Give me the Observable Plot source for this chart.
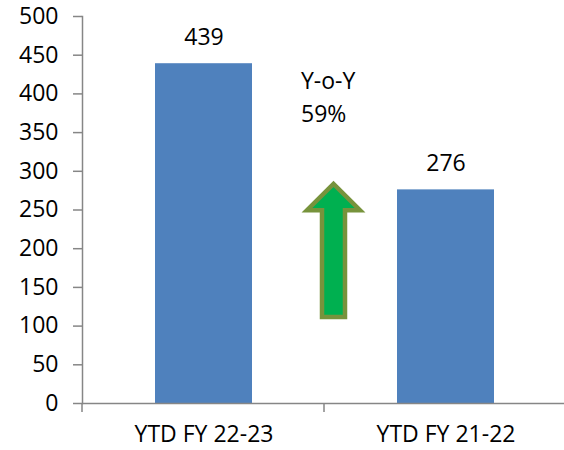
<!DOCTYPE html>
<html>
<head>
<meta charset="utf-8">
<script src="https://cdn.jsdelivr.net/npm/d3@7"></script>
<script src="https://cdn.jsdelivr.net/npm/@observablehq/plot@0.6"></script>
<style>
  body { margin: 0; background: #fff; }
  #chart svg { font-family: "Open Sans", sans-serif; }
</style>
</head>
<body>
<div id="chart"></div>
<script>
const categories = ["YTD FY 22-23", "YTD FY 21-22"];
const values = [439, 276];
const yTicks = [0, 50, 100, 150, 200, 250, 300, 350, 400, 450, 500];
// arrow annotation (data units)
const arrowBottom = 111;
const arrowHeadBase = 249;
const arrowTip = 283;
const yoyLabelY = 399;
const yoyPct = Math.round((values[0] / values[1] - 1) * 100);
const yoyText = `Y-o-Y\n${yoyPct}%`;

const data = categories.map((c, i) => ({category: c, value: values[i]}));
const axisColor = "#868686";
const fs = 23;

function bandInfo(x) {
  const r = x.range();
  const step = typeof x.step === "function" ? x.step() : (r[1] - r[0]) / categories.length;
  const bw = typeof x.bandwidth === "function" ? x.bandwidth() : step * 0.4;
  return {r0: Math.min(...r), step, bw};
}

// boundary ticks on the category axis
function xBoundaryTicks(index, scales, values, dims) {
  const {r0, step} = bandInfo(scales.x);
  const y0 = scales.y(0);
  const g = d3.create("svg:g");
  for (let k = 0; k <= categories.length; k++) {
    g.append("line")
      .attr("x1", r0 + k * step).attr("x2", r0 + k * step)
      .attr("y1", y0).attr("y2", y0 + 9)
      .attr("stroke", axisColor).attr("stroke-width", 1.5);
  }
  return g.node();
}

// block arrow between the two bars
function yoyArrow(index, scales, values, dims) {
  const {r0, step} = bandInfo(scales.x);
  const cx = r0 + step + 9.5;
  const y = scales.y;
  const sw = 11.5, hw = 26.5;
  const pts = [
    [cx - sw, y(arrowBottom)], [cx - sw, y(arrowHeadBase)], [cx - hw, y(arrowHeadBase)],
    [cx, y(arrowTip)], [cx + hw, y(arrowHeadBase)], [cx + sw, y(arrowHeadBase)],
    [cx + sw, y(arrowBottom)]
  ];
  const g = d3.create("svg:g");
  g.append("path")
    .attr("d", "M" + pts.map(p => p.join(",")).join("L") + "Z")
    .attr("fill", "#00B050").attr("stroke", "#77933C").attr("stroke-width", 4.5)
    .attr("stroke-linejoin", "miter");
  return g.node();
}

const chart = Plot.plot({
  width: 564,
  height: 450,
  marginTop: 16,
  marginBottom: 47,
  marginLeft: 82,
  marginRight: 0,
  style: {fontSize: fs + "px", fontFamily: "'Open Sans', sans-serif", color: "#000", background: "#fff"},
  x: {domain: categories, range: [82, 567], paddingInner: 0.6, paddingOuter: 0.3},
  y: {domain: [0, 500]},
  marks: [
    Plot.barY(data, {x: "category", y: "value", fill: "#4F81BD"}),
    Plot.frame({anchor: "left", stroke: axisColor, strokeWidth: 1.5}),
    Plot.ruleY([0], {stroke: axisColor, strokeWidth: 1.5}),
    Plot.axisY({ticks: yTicks, tickSize: 9, tickPadding: 15, stroke: axisColor, strokeWidth: 1.5, label: null, fontSize: fs, fill: "#000"}),
    Plot.axisX({tickSize: 0, tickPadding: 22, label: null, fontSize: fs, fill: "#000"}),
    xBoundaryTicks,
    Plot.text(data, {x: "category", y: "value", text: d => String(d.value), dy: -26, fontSize: fs, fill: "#000"}),
    yoyArrow,
    Plot.text([yoyText], {x: () => categories[1], y: () => yoyLabelY, text: d => d, textAnchor: "start", dx: -145, lineHeight: 1.45, fontSize: fs, fill: "#000"})
  ]
});
document.getElementById("chart").appendChild(chart);
</script>
</body>
</html>
